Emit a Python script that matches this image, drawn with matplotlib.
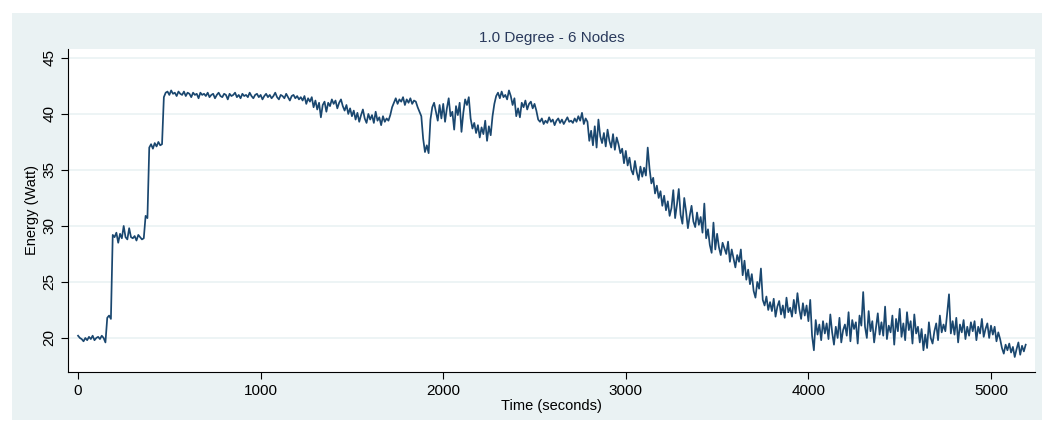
import numpy as np
import matplotlib
matplotlib.use("Agg")
import matplotlib.pyplot as plt
from matplotlib.patches import Rectangle

# power readings, one every 10 seconds (each row = 100 s)
energy = [
    20.2, 20.0, 19.9, 19.7, 20.0, 19.8, 20.1, 19.9, 20.2, 19.8,
    20.0, 20.1, 19.9, 20.2, 20.0, 19.6, 21.8, 22.0, 21.7, 29.2,
    29.0, 29.4, 28.5, 29.3, 28.9, 30.0, 29.0, 28.8, 29.8, 29.0,
    28.9, 29.1, 28.7, 29.2, 29.0, 28.8, 28.9, 30.9, 30.7, 37.0,
    37.3, 36.9, 37.4, 37.1, 37.5, 37.2, 37.3, 41.5, 41.9, 42.0,
    41.7, 42.1, 41.8, 41.9, 41.6, 42.0, 41.8, 41.7, 42.0, 41.6,
    41.9, 41.8, 41.5, 41.9, 41.7, 41.8, 41.4, 41.9, 41.7, 41.8,
    41.6, 41.9, 41.5, 41.7, 41.8, 41.4, 41.7, 41.9, 41.6, 41.5,
    41.8, 41.7, 41.3, 41.8, 41.6, 41.7, 41.9, 41.5, 41.7, 41.4,
    41.8, 41.6, 41.7, 41.5, 41.9, 41.6, 41.4, 41.7, 41.8, 41.5,
    41.7, 41.3, 41.6, 41.8, 41.5, 41.7, 41.4, 41.6, 41.9, 41.5,
    41.3, 41.7, 41.6, 41.4, 41.8, 41.5, 41.2, 41.6, 41.7, 41.4,
    41.6, 41.3, 41.5, 41.2, 41.6, 40.9, 41.4, 41.1, 41.5, 40.6,
    41.2, 40.4, 41.0, 39.7, 40.8, 41.1, 40.2, 41.0, 40.7, 41.3,
    40.9, 41.2, 40.5, 41.0, 41.3, 40.7, 40.3, 40.8, 40.0, 40.5,
    39.8, 40.3, 39.5, 40.1, 39.3, 39.9, 40.4, 39.6, 39.2, 40.0,
    39.5, 39.9, 39.2, 40.2, 39.4, 39.7, 39.0, 39.8, 39.3, 39.6,
    39.4, 39.9, 40.6, 41.0, 41.4, 40.9, 41.3, 41.1, 41.5, 40.8,
    41.3, 41.0, 41.4, 40.9, 41.2, 41.1, 40.6, 40.2, 39.8, 37.8,
    36.6, 37.2, 36.5, 39.5, 40.6, 41.0, 40.2, 39.4, 40.8, 39.6,
    40.9, 39.3, 40.5, 41.4, 39.8, 40.2, 38.6, 40.7, 39.9, 41.0,
    38.4, 40.1, 41.3, 40.8, 41.5, 39.6, 38.7, 39.2, 38.3, 39.0,
    37.9, 38.8, 38.2, 39.4, 37.6, 38.9, 38.1, 39.8, 40.9, 41.6,
    41.9, 41.4, 42.0, 41.5, 41.7, 41.3, 42.1, 41.6, 40.8, 41.4,
    39.8, 40.5, 39.7, 41.0, 40.6, 41.2, 40.4, 40.9, 41.1, 40.5,
    40.9, 40.3, 39.5, 39.3, 39.6, 39.1, 39.4, 39.2, 39.7, 39.3,
    39.5, 39.0, 39.4, 39.6, 39.2, 39.5, 39.1, 39.4, 39.7, 39.3,
    39.4, 39.2, 39.6, 39.3, 39.8, 39.4, 40.1, 39.1, 39.6, 39.3,
    37.6, 38.5, 37.2, 38.9, 37.0, 39.5, 38.0, 37.4, 38.3, 37.1,
    38.6, 37.6, 37.0, 38.2, 36.8, 37.9, 37.3, 36.5, 36.9, 35.6,
    36.7, 35.4, 36.1, 35.0, 34.6, 35.8, 34.8, 34.1, 35.3, 34.4,
    35.2, 34.5, 37.0, 35.1, 33.8, 34.3, 32.9, 33.6, 32.5, 33.1,
    31.8, 32.7, 31.4, 32.2, 30.9, 31.6, 33.2, 30.7, 31.9, 33.3,
    31.0, 30.2, 32.5, 31.3, 29.8, 30.9, 31.8, 30.4, 29.9, 31.2,
    30.1, 30.8, 29.4, 32.0, 28.9, 29.7, 28.3, 27.6, 30.3, 27.9,
    29.3, 28.1, 27.4, 28.5, 28.0, 27.5, 28.6, 26.8, 27.9, 27.1,
    26.3, 27.4, 26.8, 27.9, 25.6, 26.9, 25.2, 26.1, 24.8, 25.7,
    24.2, 23.6, 25.0, 24.4, 26.2, 23.4, 22.9, 23.7, 22.5, 23.2,
    22.4, 23.5, 21.9, 22.8, 23.3, 22.1, 22.9, 21.8, 23.6, 22.3,
    22.7, 21.9, 23.4, 22.2, 24.0, 22.6, 21.7, 23.1, 22.0, 22.9,
    21.5, 23.4, 20.2, 18.9, 21.6, 20.3, 21.2, 19.8, 21.5, 20.4,
    21.3, 19.9, 22.1, 20.5, 19.4, 21.0, 20.0, 21.8, 19.6, 20.7,
    21.2, 20.2, 22.3, 19.7, 21.6, 20.8, 21.4, 19.5, 22.0, 21.1,
    24.1, 21.0, 20.0, 22.4, 20.6, 21.5, 19.6, 20.9, 22.2, 20.3,
    21.4, 20.2, 22.8, 19.9, 21.1, 20.5, 22.0, 19.4, 21.7, 20.6,
    22.6, 20.1, 21.3, 19.8, 22.3, 20.7, 21.5, 19.5, 22.1, 20.4,
    21.0, 19.6, 20.8, 18.9, 20.3, 19.1, 21.4, 20.0, 19.5, 20.6,
    21.3, 19.8, 22.0, 20.5, 21.2, 20.6, 22.2, 23.9, 20.4, 21.5,
    20.3, 21.8, 19.6, 21.2, 20.5, 21.6, 19.9, 21.0, 20.2, 21.4,
    20.6, 21.5, 19.8, 21.0, 20.4, 21.7, 20.1, 20.8, 21.3, 20.0,
    21.1, 20.3, 21.0, 19.7, 20.5, 19.9, 19.1, 18.6, 19.4, 18.9,
    19.5, 18.7, 19.2, 18.3, 19.0, 19.6, 18.5, 19.3, 18.8, 19.4,
]
sample_step = 10
time_s = np.arange(len(energy)) * sample_step

x_ticks = [0, 1000, 2000, 3000, 4000, 5000]
y_ticks = [20, 25, 30, 35, 40, 45]

title = "1.0 Degree - 6 Nodes"
navy = "#1a476f"
region = "#eaf2f3"

plt.rcParams['font.family'] = ['Liberation Sans', 'DejaVu Sans']

fig = plt.figure(figsize=(10.54, 4.21), dpi=100)
fig.patch.set_facecolor("white")

# shaded graph region behind the plot
W, H = 1054, 421
fig.add_artist(Rectangle((12 / W, 1 - 420 / H), 1030 / W, 407 / H,
                         transform=fig.transFigure, facecolor=region,
                         edgecolor="none", zorder=-5))

ax = fig.add_axes([68 / W, 1 - 372 / H, 967 / W, 323 / H])
ax.set_zorder(1)
ax.set_facecolor("white")

ax.plot(time_s, energy, color=navy, lw=1.25)

ax.set_xlim(-55, 5241)
ax.set_ylim(16.96, 45.8)
ax.set_xticks(x_ticks)
ax.set_yticks(y_ticks)
ax.set_yticklabels([str(v) for v in y_ticks], rotation=90, va="center")
ax.tick_params(axis="both", labelsize=11, length=5, width=0.8, color="black")
ax.grid(axis="y", color=region, lw=1.2)
ax.set_axisbelow(True)

for side in ["top", "right"]:
    ax.spines[side].set_visible(False)
for side in ["left", "bottom"]:
    ax.spines[side].set_linewidth(0.8)

ax.set_xlabel("Time (seconds)", fontsize=10.5, labelpad=1)
ax.set_ylabel("Energy (Watt)", fontsize=10.5, labelpad=2)
fig.text((68 + 1035) / 2 / W, 1 - 38 / H, title, ha="center", va="center",
         fontsize=11, color="#2a3a5c")

fig.savefig("out.png", dpi=100)
